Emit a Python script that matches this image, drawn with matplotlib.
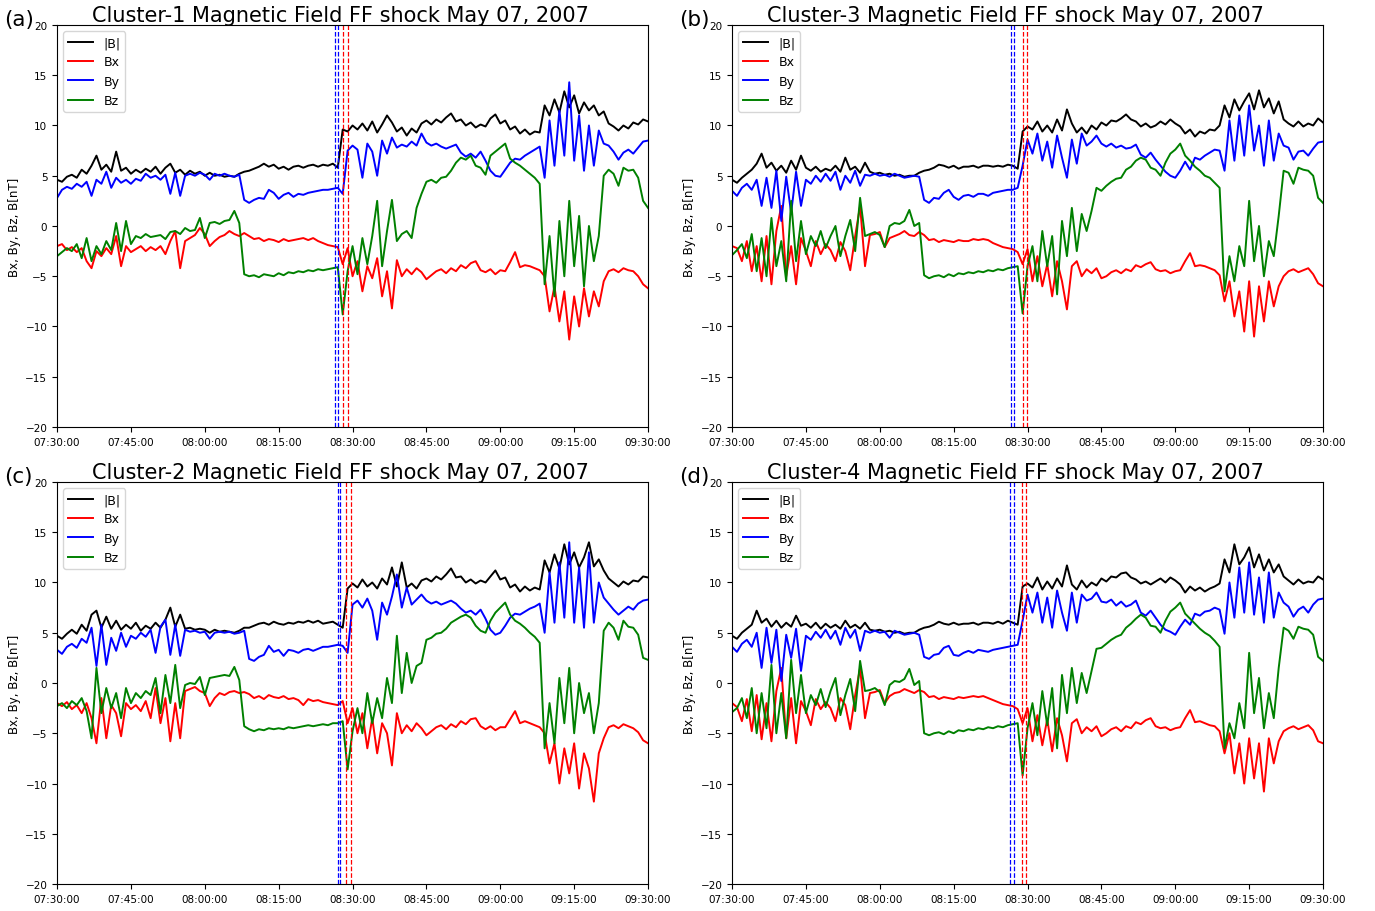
import matplotlib
matplotlib.use("Agg")
import matplotlib.pyplot as plt
import matplotlib.dates as mdates
import pandas as pd

# one value per minute, 07:30 -> 09:30
times = pd.date_range("2007-05-07 07:30:00", "2007-05-07 09:30:00", freq="1min")

# ---- Cluster-1 ----
B_c1 = [4.6, 4.4, 4.9, 5.1, 4.8, 5.6, 5.2, 6.0, 7.0, 5.6, 6.1, 5.4, 7.4, 5.5, 5.8, 5.2, 5.6, 5.3, 5.7, 5.4,
        5.9, 5.2, 5.8, 6.2, 5.3, 5.6, 5.1, 5.5, 5.2, 5.4, 5.0, 5.3, 5.0, 5.1, 4.9, 5.0, 4.9, 5.2, 5.4, 5.5,
        5.7, 5.9, 6.2, 5.9, 6.1, 5.7, 5.9, 5.6, 5.9, 6.0, 5.8, 6.0, 6.1, 5.9, 6.1, 6.0, 6.2, 5.8, 9.6, 9.4,
        10.0, 9.6, 10.2, 9.5, 10.4, 9.3, 10.1, 11.0, 10.3, 9.4, 9.8, 9.0, 9.7, 9.3, 10.2, 10.5, 10.1, 10.6, 10.3, 10.8,
        11.2, 10.4, 10.6, 10.0, 10.3, 9.8, 10.1, 9.9, 10.7, 11.1, 10.2, 10.5, 9.6, 9.9, 9.2, 9.6, 9.1, 9.4, 9.3, 12.0,
        11.0, 12.6, 11.3, 13.4, 11.8, 13.0, 11.2, 12.3, 11.5, 12.0, 11.0, 11.4, 10.2, 9.9, 9.5, 10.0, 9.7, 10.3, 10.1, 10.6,
        10.4]
Bx_c1 = [-2.0, -1.8, -2.4, -2.1, -2.6, -2.2, -3.5, -4.2, -2.5, -3.0, -2.2, -2.8, -1.0, -4.0, -2.0, -2.6, -2.3, -2.0, -2.5, -2.1,
         -2.4, -2.0, -2.8, -1.5, -0.5, -4.2, -1.5, -1.2, -0.9, -0.2, -0.8, -2.0, -1.5, -1.1, -0.9, -0.5, -0.8, -1.0, -0.7, -1.0,
         -1.3, -1.2, -1.5, -1.3, -1.4, -1.6, -1.3, -1.5, -1.4, -1.3, -1.2, -1.4, -1.2, -1.5, -1.7, -1.9, -2.0, -2.1, -3.8, -2.2,
         -5.0, -3.5, -6.5, -4.0, -5.2, -3.2, -7.0, -4.5, -8.2, -3.4, -5.0, -4.3, -4.8, -4.2, -4.6, -5.3, -4.9, -4.5, -4.3, -4.7,
         -4.2, -4.5, -3.9, -4.2, -3.7, -3.5, -4.4, -4.6, -4.3, -4.8, -4.4, -4.5, -3.6, -2.6, -4.1, -3.9, -4.0, -4.2, -4.4, -5.0,
         -8.5, -6.0, -9.5, -6.5, -11.3, -7.0, -10.0, -6.2, -9.0, -6.5, -8.0, -5.5, -4.5, -4.3, -4.6, -4.2, -4.4, -4.5, -5.0, -5.8,
         -6.2]
By_c1 = [2.8, 3.6, 3.9, 3.7, 4.2, 3.9, 4.4, 3.0, 4.6, 4.2, 5.4, 3.8, 4.8, 4.3, 4.6, 4.2, 4.7, 4.5, 5.2, 4.8,
         5.0, 4.6, 5.1, 3.2, 5.3, 3.0, 5.0, 5.2, 5.0, 5.3, 5.1, 4.6, 5.2, 5.0, 5.2, 5.0, 4.9, 5.1, 2.6, 2.3,
         2.6, 2.8, 2.7, 3.6, 3.3, 2.7, 3.1, 3.3, 2.9, 3.2, 3.1, 3.3, 3.4, 3.5, 3.6, 3.6, 3.7, 3.8, 3.2, 7.5,
         8.0, 7.6, 4.8, 8.2, 7.4, 5.0, 8.5, 7.2, 8.8, 7.8, 8.1, 7.9, 8.4, 8.0, 9.2, 8.3, 8.0, 8.2, 7.9, 7.7,
         7.9, 8.1, 7.3, 6.9, 7.2, 6.8, 7.4, 6.5, 5.5, 5.0, 4.9, 5.6, 6.3, 6.7, 6.6, 7.0, 7.3, 7.6, 7.9, 4.8,
         10.5, 6.0, 11.5, 7.0, 14.3, 6.5, 11.0, 5.5, 10.0, 6.0, 9.5, 8.2, 8.0, 7.4, 6.6, 7.3, 7.6, 7.2, 7.8, 8.4,
         8.5]
Bz_c1 = [-3.0, -2.6, -2.2, -2.5, -1.8, -3.2, -1.2, -3.5, -2.0, -2.8, -1.5, -2.4, 0.3, -2.5, 0.5, -1.8, -1.0, -1.2, -0.8, -1.1,
         -1.0, -0.9, -1.3, -0.6, -0.5, -0.8, -0.2, -0.5, -0.4, 0.8, -1.2, 0.3, 0.4, 0.2, 0.5, 0.6, 1.5, 0.3, -4.8, -5.0,
         -4.9, -5.1, -4.8, -4.9, -5.0, -4.7, -4.9, -4.6, -4.7, -4.5, -4.6, -4.4, -4.5, -4.3, -4.4, -4.3, -4.2, -4.1, -8.8, -4.5,
         -2.0, -4.8, -1.2, -3.8, -1.0, 2.5, -4.0, -0.5, 2.6, -1.5, -0.8, -0.5, -1.2, 1.8, 3.2, 4.4, 4.6, 4.3, 4.8, 4.9,
         5.5, 6.3, 6.8, 6.6, 7.0, 6.0, 5.8, 5.1, 7.0, 7.4, 7.8, 8.2, 6.7, 6.3, 6.0, 5.6, 5.2, 4.8, 4.2, -5.8,
         -1.0, -7.0, 0.5, -5.0, 2.5, -4.0, 1.0, -6.0, 0.0, -3.5, -1.0, 5.0, 5.6, 5.2, 4.0, 5.8, 5.5, 5.6, 4.8, 2.5,
         1.8]

# ---- Cluster-3 ----
B_c3 = [4.6, 4.3, 4.8, 5.2, 5.6, 6.2, 7.2, 5.8, 6.3, 5.5, 6.0, 5.3, 6.5, 5.6, 7.0, 5.8, 5.5, 5.9, 5.4, 5.7,
        5.5, 6.0, 5.4, 6.8, 5.6, 5.9, 5.3, 6.3, 5.4, 5.2, 5.3, 5.1, 5.2, 5.0, 5.1, 4.9, 5.0, 5.0, 5.3, 5.5,
        5.6, 5.8, 6.1, 6.0, 5.8, 6.0, 5.7, 5.9, 5.9, 6.0, 5.8, 6.0, 6.0, 5.9, 6.0, 5.9, 6.1, 6.0, 5.7, 9.4,
        9.9, 9.6, 10.4, 9.4, 10.0, 9.3, 10.6, 9.5, 11.6, 10.2, 9.3, 9.8, 9.2, 10.0, 9.6, 10.3, 10.0, 10.5, 10.4, 10.7,
        11.1, 10.6, 10.4, 9.9, 10.2, 9.8, 10.0, 10.4, 10.1, 10.6, 10.2, 9.9, 9.2, 9.6, 8.9, 9.4, 9.2, 9.6, 9.5, 10.0,
        12.0, 10.8, 12.6, 11.5, 12.4, 13.2, 11.6, 13.5, 11.8, 12.7, 11.2, 12.4, 10.6, 10.2, 9.9, 10.4, 9.9, 10.2, 10.0, 10.7,
        10.3]
Bx_c3 = [-2.0, -2.2, -3.5, -1.5, -4.5, -2.0, -5.5, -1.0, -5.8, -0.5, 2.0, -5.0, -2.0, -5.8, -1.2, -2.5, -4.0, -1.5, -2.8, -1.8,
         -2.4, -3.5, -1.6, -2.5, -4.4, -1.0, 2.0, -4.0, -0.9, -0.8, -0.6, -2.1, -1.2, -1.0, -0.8, -0.5, -0.9, -1.0, -0.6, -0.9,
         -1.4, -1.3, -1.6, -1.4, -1.5, -1.6, -1.4, -1.5, -1.5, -1.3, -1.4, -1.3, -1.4, -1.7, -1.9, -2.1, -2.2, -2.3, -2.6, -3.8,
         -2.3, -5.5, -3.0, -6.0, -3.8, -7.0, -3.5, -5.5, -8.3, -4.0, -3.5, -5.0, -4.3, -4.7, -4.2, -5.2, -5.0, -4.6, -4.4, -4.7,
         -4.3, -4.5, -3.9, -4.1, -3.8, -3.6, -4.3, -4.5, -4.4, -4.7, -4.5, -4.4, -3.5, -2.7, -4.0, -3.9, -4.0, -4.2, -4.4, -4.9,
         -7.5, -5.5, -9.0, -6.5, -10.5, -5.5, -11.0, -6.0, -9.5, -5.5, -8.0, -6.0, -5.0, -4.5, -4.3, -4.6, -4.4, -4.2, -4.8, -5.7,
         -6.0]
By_c3 = [3.5, 3.0, 3.8, 4.2, 3.6, 4.6, 2.0, 4.8, 1.8, 5.5, 0.5, 4.9, 1.3, 5.4, 2.0, 4.6, 4.2, 5.0, 4.4, 5.2,
         4.5, 5.4, 3.6, 5.0, 4.3, 5.5, 4.0, 5.1, 5.0, 5.2, 5.0, 5.1, 4.9, 5.2, 5.0, 4.8, 4.9, 5.0, 4.9, 2.6,
         2.3, 2.8, 2.7, 3.3, 3.6, 2.9, 2.6, 3.0, 3.1, 2.9, 3.2, 3.2, 3.0, 3.3, 3.4, 3.5, 3.6, 3.6, 3.8, 6.0,
         8.6, 7.2, 9.2, 6.5, 8.4, 5.8, 9.0, 6.8, 4.8, 8.6, 6.2, 9.2, 8.0, 8.4, 9.0, 8.2, 7.9, 8.2, 7.8, 8.0,
         7.7, 7.8, 8.1, 7.1, 6.8, 7.3, 6.6, 6.0, 5.4, 5.0, 4.8, 5.5, 6.4, 5.6, 6.8, 6.6, 7.0, 7.3, 7.6, 7.5,
         5.5, 10.5, 6.5, 11.0, 7.0, 12.0, 7.5, 10.0, 6.0, 10.5, 6.5, 9.2, 8.0, 7.8, 6.6, 7.4, 7.5, 7.0, 7.7, 8.3,
         8.4]
Bz_c3 = [-2.9, -2.4, -1.8, -3.2, -0.8, -4.5, -1.2, -5.0, 0.8, -4.0, -1.5, -5.5, 2.5, -3.5, 0.5, -2.8, -1.0, -2.0, -0.5, -2.2,
         -1.0, 0.0, -3.0, -1.0, 0.6, -2.5, 2.8, -1.0, -0.8, -0.6, -0.9, -2.1, 0.0, 0.3, 0.2, 0.5, 1.6, 0.0, 0.3, -4.9,
         -5.2, -5.0, -4.9, -5.1, -4.8, -5.0, -4.7, -4.8, -4.6, -4.7, -4.5, -4.6, -4.4, -4.5, -4.3, -4.4, -4.2, -4.1, -4.0, -8.7,
         -4.0, -2.0, -5.5, -0.5, -4.0, -1.0, -6.8, 0.5, -3.0, 1.8, -2.5, 1.2, -0.5, 1.5, 3.8, 3.5, 4.0, 4.4, 4.7, 4.8,
         5.6, 5.9, 6.5, 6.8, 6.6, 5.8, 5.6, 5.0, 6.3, 7.2, 7.6, 8.2, 7.0, 6.5, 5.9, 5.5, 5.0, 4.8, 4.3, 3.8,
         -6.5, -3.0, -5.5, -2.0, -4.0, 2.5, -3.5, 0.0, -5.0, -1.5, -3.0, 1.0, 5.5, 5.3, 4.2, 5.8, 5.6, 5.5, 5.0, 2.8,
         2.3]

# ---- Cluster-2 ----
B_c2 = [4.7, 4.4, 4.9, 5.3, 4.9, 5.8, 5.2, 6.8, 7.2, 5.5, 6.6, 5.4, 6.2, 5.3, 5.8, 5.4, 6.0, 5.2, 5.7, 5.4,
        6.0, 5.5, 6.3, 7.5, 5.6, 6.8, 5.4, 5.5, 5.3, 5.4, 5.3, 5.0, 5.3, 5.1, 5.2, 5.1, 5.0, 5.2, 5.5, 5.5,
        5.7, 5.9, 6.0, 5.8, 6.1, 5.9, 5.8, 6.0, 5.9, 6.1, 6.0, 6.2, 6.0, 6.2, 5.9, 6.0, 6.1, 5.8, 5.5, 9.4,
        9.9, 9.5, 10.3, 9.6, 10.0, 9.4, 10.4, 9.8, 11.5, 9.6, 12.0, 9.5, 9.9, 9.4, 10.2, 10.4, 10.1, 10.6, 10.3, 10.8,
        11.4, 10.5, 10.6, 10.0, 10.3, 9.9, 10.2, 10.0, 10.6, 11.2, 10.3, 10.5, 9.5, 9.8, 9.1, 9.6, 9.2, 9.5, 9.3, 12.2,
        11.0, 12.8, 11.4, 13.8, 11.8, 13.0, 11.5, 12.5, 14.0, 11.6, 12.3, 11.2, 10.4, 10.0, 9.6, 10.1, 9.8, 10.2, 10.1, 10.6,
        10.5]
Bx_c2 = [-2.0, -2.3, -1.9, -2.6, -2.2, -3.0, -2.0, -3.5, -6.0, -1.5, -5.5, -2.2, -3.0, -5.3, -2.0, -2.6, -2.2, -2.8, -1.8, -3.5,
         -0.5, -4.0, -1.5, -5.8, -2.0, -5.5, -0.8, -0.6, -0.4, -0.8, -1.0, -2.3, -1.5, -1.0, -1.2, -0.9, -0.8, -1.0, -0.9, -1.1,
         -1.5, -1.3, -1.6, -1.2, -1.4, -1.5, -1.3, -1.6, -1.5, -1.7, -2.2, -1.6, -1.8, -1.7, -1.9, -2.0, -2.1, -2.2, -1.8, -4.0,
         -2.5, -5.0, -3.0, -6.5, -3.5, -7.0, -4.0, -5.0, -8.2, -3.0, -5.0, -4.2, -4.8, -4.0, -4.5, -5.2, -4.8, -4.4, -4.2, -4.6,
         -4.1, -4.4, -3.8, -4.1, -3.6, -3.5, -4.3, -4.6, -4.3, -4.7, -4.4, -4.4, -3.6, -2.8, -4.0, -3.8, -4.0, -4.2, -4.4, -5.0,
         -8.0, -6.0, -10.0, -6.5, -9.0, -6.0, -10.5, -7.0, -8.5, -11.8, -7.0, -5.5, -4.4, -4.2, -4.5, -4.1, -4.3, -4.5, -4.9, -5.7,
         -6.0]
By_c2 = [3.3, 2.9, 3.6, 3.9, 3.5, 4.4, 4.0, 5.5, 1.7, 5.8, 1.8, 4.5, 3.2, 5.0, 3.6, 4.7, 4.4, 5.0, 4.6, 5.3,
         3.0, 5.6, 6.3, 2.8, 5.8, 2.7, 5.3, 5.1, 5.2, 5.0, 5.1, 4.4, 5.0, 5.1, 5.0, 5.1, 4.9, 5.0, 5.2, 2.4,
         2.2, 2.6, 2.8, 3.7, 3.1, 3.3, 2.7, 3.3, 3.2, 3.0, 3.3, 3.4, 3.2, 3.4, 3.6, 3.6, 3.7, 3.8, 3.7, 3.0,
         7.8, 8.2, 7.5, 8.4, 7.2, 4.3, 8.0, 6.8, 8.6, 10.8, 7.5, 9.5, 7.8, 8.3, 8.8, 8.2, 7.9, 8.1, 7.8, 8.0,
         8.2, 7.9, 7.4, 7.0, 7.2, 6.8, 7.3, 6.4, 5.3, 4.8, 5.0, 5.7, 6.5, 6.9, 6.8, 7.1, 7.4, 7.6, 7.9, 5.0,
         11.0, 6.0, 12.0, 6.5, 14.0, 6.0, 11.5, 5.5, 13.0, 6.0, 10.0, 8.5, 7.9, 7.3, 6.8, 7.2, 7.6, 7.3, 7.9, 8.2,
         8.3]
Bz_c2 = [-2.3, -2.0, -2.5, -1.8, -2.2, -1.5, -2.8, -5.5, 1.5, -3.0, -0.5, -2.5, -1.0, -3.5, -0.5, -2.0, -1.0, -1.5, -0.8, -1.2,
         0.5, -3.0, 0.8, -2.0, 1.8, -2.5, -0.2, 0.0, -0.1, 0.6, -1.2, 0.5, 0.6, 0.7, 0.8, 0.7, 1.6, 0.3, -4.3, -4.6,
         -4.8, -4.6, -4.7, -4.5, -4.6, -4.5, -4.6, -4.4, -4.5, -4.4, -4.3, -4.2, -4.3, -4.2, -4.1, -4.2, -4.0, -4.0, -3.8, -8.6,
         -4.8, -2.5, -5.0, -1.0, -4.0, -1.5, -3.5, 0.5, -2.0, 4.7, -1.0, 3.0, 0.0, 1.7, 2.0, 4.3, 4.5, 4.9, 5.0, 5.4,
         6.0, 6.3, 6.6, 6.8, 6.5, 5.7, 5.2, 5.0, 6.2, 7.0, 7.5, 8.0, 6.8, 6.2, 5.9, 5.5, 5.0, 4.6, 4.0, -6.5,
         -2.0, -6.0, 0.5, -4.0, 1.5, -5.0, 0.0, -3.0, -1.0, -5.0, -2.0, 5.2, 6.0, 5.5, 4.3, 6.2, 5.6, 5.5, 4.8, 2.5,
         2.3]

# ---- Cluster-4 ----
B_c4 = [4.7, 4.4, 5.0, 5.4, 5.8, 7.2, 6.0, 6.4, 5.6, 6.2, 5.5, 6.0, 5.6, 6.7, 5.7, 5.9, 5.5, 6.0, 5.4, 5.9,
        5.5, 5.8, 5.4, 6.2, 5.5, 5.8, 5.4, 6.0, 5.3, 5.2, 5.3, 5.1, 5.2, 5.0, 5.1, 4.9, 5.0, 5.0, 5.3, 5.5,
        5.6, 5.8, 6.1, 5.9, 5.8, 6.0, 5.8, 5.9, 5.9, 6.0, 5.8, 6.0, 6.0, 5.9, 6.1, 5.9, 6.2, 6.0, 5.8, 9.6,
        9.9, 9.5, 10.5, 9.3, 10.1, 9.4, 10.4, 9.6, 11.7, 9.8, 9.3, 10.2, 9.5, 10.0, 9.7, 10.4, 10.1, 10.6, 10.5, 10.9,
        11.0, 10.5, 10.3, 9.9, 10.1, 9.8, 10.1, 10.4, 10.0, 10.5, 10.2, 9.8, 9.0, 9.6, 9.2, 9.5, 9.1, 9.4, 9.6, 9.9,
        12.3, 11.0, 13.8, 11.8, 12.5, 13.5, 11.5, 12.8, 11.2, 12.3, 11.0, 11.8, 10.6, 10.2, 9.8, 10.3, 9.9, 10.1, 10.0, 10.6,
        10.3]
Bx_c4 = [-2.0, -2.4, -3.8, -1.6, -4.8, -1.2, -5.6, -2.0, -5.8, -0.8, 1.5, -5.5, -1.5, -6.0, -1.8, -2.8, -4.2, -1.6, -2.6, -1.9,
         -2.5, -3.8, -1.5, -2.2, -4.6, -1.2, 1.5, -3.5, -1.0, -0.9, -0.7, -2.0, -1.3, -1.0, -0.9, -0.6, -0.8, -1.0, -0.7, -0.9,
         -1.4, -1.3, -1.6, -1.4, -1.5, -1.6, -1.4, -1.5, -1.4, -1.3, -1.4, -1.3, -1.5, -1.7, -1.9, -2.1, -2.2, -2.3, -2.6, -4.0,
         -2.5, -5.8, -3.2, -6.2, -3.6, -6.8, -3.5, -5.2, -7.8, -4.0, -3.6, -5.0, -4.4, -4.8, -4.3, -5.3, -5.0, -4.6, -4.4, -4.8,
         -4.3, -4.5, -3.9, -4.1, -3.7, -3.5, -4.3, -4.5, -4.4, -4.7, -4.5, -4.4, -3.5, -2.7, -3.9, -3.8, -4.0, -4.2, -4.3, -4.8,
         -7.0, -5.0, -9.0, -6.0, -10.0, -5.5, -9.5, -6.0, -10.8, -5.5, -8.0, -5.8, -4.8, -4.5, -4.3, -4.6, -4.4, -4.2, -4.7, -5.8,
         -6.0]
By_c4 = [3.6, 3.1, 3.9, 4.3, 3.6, 5.0, 1.5, 5.5, 2.0, 5.3, 0.2, 4.8, 2.5, 5.4, 1.2, 4.7, 4.3, 5.1, 4.5, 5.3,
         4.4, 5.2, 3.8, 5.5, 4.5, 5.3, 3.2, 5.2, 5.0, 5.2, 5.0, 5.1, 4.5, 5.2, 5.0, 4.8, 4.9, 5.0, 4.8, 2.6,
         2.4, 2.8, 2.9, 3.5, 3.7, 2.8, 2.7, 3.0, 3.2, 3.0, 3.3, 3.2, 3.1, 3.3, 3.4, 3.5, 3.6, 3.7, 3.8, 6.2,
         8.8, 7.0, 9.0, 6.0, 8.5, 5.5, 9.2, 7.0, 5.2, 9.0, 6.0, 8.8, 8.2, 8.4, 9.0, 8.1, 8.0, 8.3, 7.7, 8.1,
         7.6, 7.8, 8.2, 7.0, 6.7, 7.2, 6.5, 5.8, 5.3, 5.1, 4.8, 5.6, 6.3, 5.8, 6.9, 6.7, 7.1, 7.2, 7.5, 7.3,
         4.9, 10.0, 6.5, 11.5, 7.0, 12.0, 6.8, 10.5, 6.0, 11.0, 6.5, 9.0, 8.0, 7.6, 6.6, 7.3, 7.6, 7.0, 7.8, 8.3,
         8.4]
Bz_c4 = [-2.9, -2.5, -1.5, -3.5, -0.5, -5.0, -1.0, -4.5, 1.8, -5.0, -1.0, -5.5, 2.3, -3.0, 0.8, -3.0, -1.2, -2.2, -0.6, -2.4,
         -0.8, 0.5, -3.2, -1.2, 0.4, -2.8, 2.2, -0.8, -0.7, -0.5, -0.9, -2.2, -0.2, 0.2, 0.1, 0.4, 1.4, -0.2, 0.2, -5.0,
         -5.2, -5.0, -4.9, -5.1, -4.8, -5.0, -4.7, -4.8, -4.6, -4.7, -4.5, -4.6, -4.4, -4.5, -4.3, -4.4, -4.2, -4.1, -4.0, -9.2,
         -4.5, -2.0, -5.2, -0.8, -4.2, -0.5, -6.5, 0.8, -3.0, 1.5, -2.0, 1.0, -1.0, 1.2, 3.4, 3.5, 3.9, 4.3, 4.6, 4.8,
         5.5, 5.9, 6.4, 6.8, 6.5, 5.7, 5.6, 5.0, 6.2, 7.1, 7.5, 8.0, 6.9, 6.4, 5.9, 5.4, 5.0, 4.7, 4.2, 3.6,
         -6.5, -4.0, -5.5, -2.0, -4.5, 3.0, -3.0, 0.5, -4.5, -1.0, -3.5, 1.5, 5.5, 5.2, 4.4, 5.6, 5.4, 5.3, 4.8, 2.6,
         2.2]

# shock boundary markers (blue pair, red pair) for each spacecraft
blue_c1 = ["08:26:24", "08:27:00"]
red_c1 = ["08:28:00", "08:29:00"]
blue_c3 = ["08:26:36", "08:27:12"]
red_c3 = ["08:29:04", "08:29:48"]
blue_c2 = ["08:27:00", "08:27:30"]
red_c2 = ["08:28:36", "08:29:36"]
blue_c4 = ["08:26:30", "08:27:12"]
red_c4 = ["08:28:48", "08:29:42"]


def draw_panel(fig, rect, tag, name, b, bx, by, bz, blue, red):
    """one spacecraft panel"""
    ax = fig.add_axes(rect)
    ax.plot(times, b, color="k", lw=1.4, label="|B|")
    ax.plot(times, bx, color="r", lw=1.4, label="Bx")
    ax.plot(times, by, color="b", lw=1.4, label="By")
    ax.plot(times, bz, color="g", lw=1.4, label="Bz")
    for t in blue:
        ax.axvline(pd.Timestamp("2007-05-07 " + t), color="b", ls="--", lw=0.9)
    for t in red:
        ax.axvline(pd.Timestamp("2007-05-07 " + t), color="r", ls="--", lw=0.9)

    ax.set_xlim(times[0], times[-1])
    ax.set_ylim(-20, 20)
    ax.set_yticks(range(-20, 21, 5))
    ax.xaxis.set_major_locator(mdates.MinuteLocator(byminute=[0, 15, 30, 45]))
    ax.xaxis.set_major_formatter(mdates.DateFormatter("%H:%M:%S"))
    ax.tick_params(labelsize=7.5, length=3.5)
    ax.set_ylabel("Bx, By, Bz, B[nT]", fontsize=8.5, labelpad=3)
    ax.set_title(name + " Magnetic Field FF shock May 07, 2007", fontsize=15, pad=2, x=0.48)
    ax.legend(loc="upper left", fontsize=9)
    fig.text(rect[0] - 0.0385, rect[1] + rect[3] + 0.0, tag, fontsize=15.5)
    return ax


fig = plt.figure(figsize=(13.75, 9.12), dpi=100)
w, h = 0.4298, 0.4408
draw_panel(fig, [0.0415, 0.5307, w, h], "(a)", "Cluster-1", B_c1, Bx_c1, By_c1, Bz_c1, blue_c1, red_c1)
draw_panel(fig, [0.5324, 0.5307, w, h], "(b)", "Cluster-3", B_c3, Bx_c3, By_c3, Bz_c3, blue_c3, red_c3)
draw_panel(fig, [0.0415, 0.0296, w, h], "(c)", "Cluster-2", B_c2, Bx_c2, By_c2, Bz_c2, blue_c2, red_c2)
draw_panel(fig, [0.5324, 0.0296, w, h], "(d)", "Cluster-4", B_c4, Bx_c4, By_c4, Bz_c4, blue_c4, red_c4)

fig.savefig("out.png", dpi=100)
